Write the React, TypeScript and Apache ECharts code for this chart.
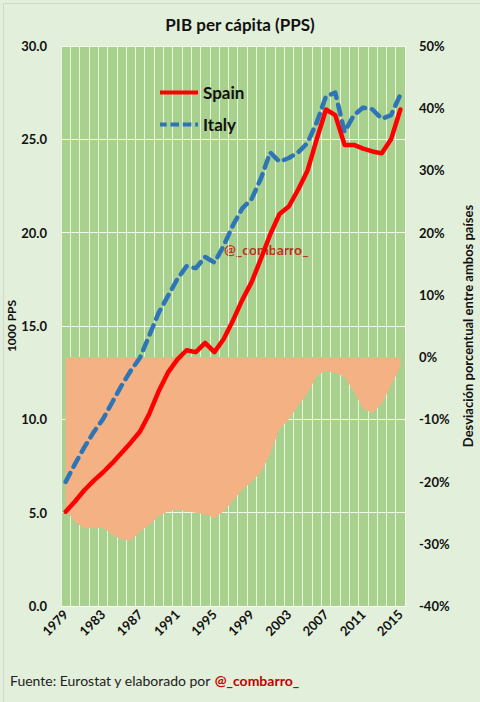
import React, { useEffect, useRef } from "react";
import * as echarts from "echarts";

const years = [
  "1979", "1980", "1981", "1982", "1983", "1984", "1985", "1986", "1987", "1988",
  "1989", "1990", "1991", "1992", "1993", "1994", "1995", "1996", "1997", "1998",
  "1999", "2000", "2001", "2002", "2003", "2004", "2005", "2006", "2007", "2008",
  "2009", "2010", "2011", "2012", "2013", "2014", "2015",
];

const spain = [
  5.05, 5.6, 6.2, 6.7, 7.15, 7.65, 8.2, 8.75, 9.35, 10.3,
  11.5, 12.5, 13.2, 13.7, 13.6, 14.1, 13.6, 14.3, 15.3, 16.4,
  17.35, 18.6, 19.9, 21.0, 21.4, 22.3, 23.3, 25.0, 26.6, 26.3,
  24.7, 24.7, 24.5, 24.35, 24.25, 25.0, 26.6,
];

const italy = [
  6.65, 7.6, 8.5, 9.3, 10.0, 10.9, 11.8, 12.6, 13.3, 14.5,
  15.7, 16.6, 17.5, 18.2, 18.1, 18.7, 18.4, 19.3, 20.4, 21.3,
  21.8, 22.9, 24.3, 23.8, 24.0, 24.3, 24.8, 25.9, 27.3, 27.5,
  25.4, 26.3, 26.7, 26.6, 26.1, 26.3, 27.4,
];

const diferencia = [
  -24.5, -26.5, -27.5, -27.5, -27.4, -28.5, -29.3, -29.5, -28.0, -27.0,
  -25.5, -24.8, -24.5, -24.8, -25.0, -25.3, -25.8, -24.8, -23.0, -21.3,
  -20.0, -18.5, -15.5, -11.5, -10.0, -7.8, -5.8, -3.0, -2.2, -2.5,
  -3.2, -5.5, -8.3, -9.0, -7.5, -4.5, -1.6,
];

const FONT = "Lato";

export default function App() {
  const ref = useRef<HTMLDivElement>(null);

  useEffect(() => {
    if (!ref.current) return;
    const chart = echarts.init(ref.current, undefined, { renderer: "svg" });
    chart.setOption({
      animation: false,
      backgroundColor: "#E2EFDA",
      textStyle: { fontFamily: FONT },
      title: {
        text: "PIB per cápita (PPS)",
        left: "center",
        top: 11,
        textStyle: { fontFamily: FONT, fontSize: 17, fontWeight: "bold", color: "#111" },
      },
      legend: {
        data: [
          { name: "Spain", icon: "path://M0,0H40V4H0Z" },
          {
            name: "Italy",
            icon: "path://M0,0H7V4H0Z M11,0H20V4H11Z M24,0H33V4H24Z M37,0H40V4H37Z",
          },
        ],
        orient: "vertical",
        left: 155,
        top: 79,
        itemGap: 15,
        itemWidth: 38,
        itemHeight: 5,
        textStyle: { fontFamily: FONT, fontSize: 17, fontWeight: "bold", color: "#111" },
      },
      grid: {
        left: 61,
        right: 75,
        top: 46,
        bottom: 96,
        show: true,
        containLabel: false,
        outerBoundsMode: "none",
        backgroundColor: "#A9D18E",
        borderWidth: 0,
      },
      xAxis: {
        type: "category",
        data: years,
        boundaryGap: true,
        axisLine: { show: false },
        axisTick: { show: false },
        axisLabel: {
          interval: 3,
          rotate: 45,
          margin: 6,
          fontFamily: FONT,
          fontSize: 13,
          fontWeight: "bold",
          color: "#111",
        },
        splitLine: {
          show: true,
          interval: 0,
          lineStyle: { color: "rgba(255,255,255,0.75)", width: 1 },
        },
      },
      yAxis: [
        {
          type: "value",
          min: 0,
          max: 30,
          interval: 5,
          position: "left",
          axisLine: { show: false },
          axisTick: { show: false },
          axisLabel: {
            formatter: (v: number) => v.toFixed(1),
            fontFamily: FONT,
            fontSize: 13,
            fontWeight: "bold",
            color: "#111",
            margin: 14,
          },
          splitLine: { show: true, lineStyle: { color: "rgba(255,255,255,0.85)", width: 1 } },
        },
        {
          type: "value",
          min: -40,
          max: 50,
          interval: 10,
          position: "right",
          name: "Desviación porcentual entre ambos países",
          nameLocation: "middle",
          nameRotate: 90,
          nameGap: 56,
          nameTextStyle: { fontFamily: FONT, fontSize: 13, fontWeight: "bold", color: "#111" },
          axisLine: { show: false },
          axisTick: { show: false },
          axisLabel: {
            formatter: (v: number) => `${v}%`,
            fontFamily: FONT,
            fontSize: 13,
            fontWeight: "bold",
            color: "#111",
            margin: 14,
          },
          splitLine: { show: false },
        },
      ],
      series: [
        {
          name: "Diferencia %",
          type: "line",
          yAxisIndex: 1,
          data: diferencia,
          symbol: "none",
          lineStyle: { width: 0, color: "#F4B183" },
          itemStyle: { color: "#F4B183" },
          areaStyle: { color: "#F4B183", opacity: 1, origin: "auto" },
          z: 1,
        },
        {
          name: "Spain",
          type: "line",
          yAxisIndex: 0,
          data: spain,
          symbol: "none",
          color: "#FF0000",
          lineStyle: { width: 4.5, color: "#FF0000", cap: "round", join: "round" },
          itemStyle: { color: "#FF0000" },
          z: 3,
        },
        {
          name: "Italy",
          type: "line",
          yAxisIndex: 0,
          data: italy,
          symbol: "none",
          color: "#2E75B6",
          lineStyle: { width: 4.5, color: "#2E75B6", type: [10, 7], cap: "round", join: "round" },
          itemStyle: { color: "#2E75B6" },
          z: 2,
        },
      ],
      graphic: [
        {
          type: "rect",
          left: 1,
          top: 1,
          shape: { width: 477, height: 699 },
          style: { fill: "none", stroke: "#D0D8CC", lineWidth: 1 },
          silent: true,
        },
        {
          type: "text",
          x: 11,
          y: 326,
          rotation: Math.PI / 2,
          style: {
            text: "1000 PPS",
            fontFamily: FONT,
            fontSize: 12,
            fontWeight: "bold",
            fill: "#111",
            align: "center",
            verticalAlign: "middle",
          },
        },
        {
          type: "text",
          left: 224,
          top: 242,
          style: {
            text: "@_combarro_",
            fontFamily: FONT,
            fontSize: 14,
            fontWeight: "bold",
            fill: "#C0301A",
          },
        },
        {
          type: "text",
          left: 166,
          top: 402,
          style: {
            text: "Diferencia %",
            fontFamily: FONT,
            fontSize: 14,
            fill: "#111",
          },
        },
        {
          type: "text",
          left: 166,
          top: 425,
          style: {
            text: "{a|Escala derecha }{b|-->}",
            fontFamily: FONT,
            fontSize: 14,
            fill: "#111",
            rich: {
              a: { fontFamily: FONT, fontSize: 14, fill: "#111" },
              b: { fontFamily: FONT, fontSize: 14, fontWeight: "bold", fill: "#111" },
            },
          },
        },
        {
          type: "text",
          left: 10,
          top: 673,
          style: {
            text: "{a|Fuente: Eurostat y elaborado por }{b|@_combarro_}",
            fontFamily: FONT,
            fontSize: 14,
            fill: "#222",
            rich: {
              a: { fontFamily: FONT, fontSize: 14, fill: "#222" },
              b: { fontFamily: FONT, fontSize: 14, fontWeight: "bold", fill: "#C00000" },
            },
          },
        },
      ],
    });
    return () => chart.dispose();
  }, []);

  return (
    <div
      ref={ref}
      style={{ position: "fixed", left: 0, top: 0, width: 480, height: 702 }}
    />
  );
}
